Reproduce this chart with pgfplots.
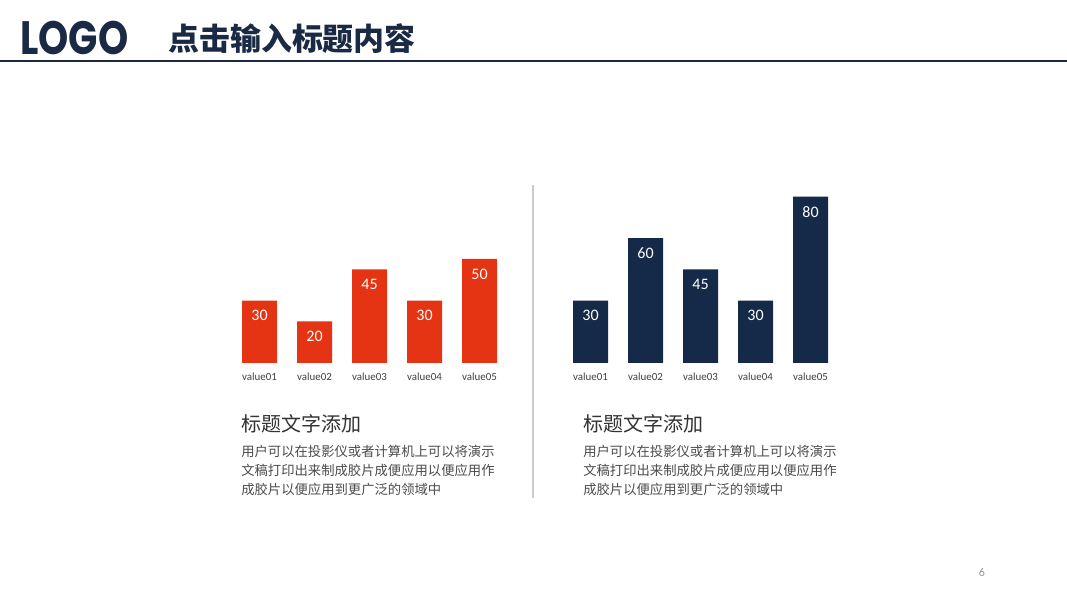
\documentclass[border=0pt]{standalone}
\usepackage{pgfplots}
\pgfplotsset{compat=1.18}
\usepackage{fontspec}
\setmainfont{Carlito}
\newfontfamily\cjk{Noto Sans CJK SC}
\newfontfamily\logofont{Poppins}
\definecolor{barred}{HTML}{E43413}
\definecolor{navy}{HTML}{152A48}
\definecolor{headnavy}{HTML}{1A2A45}
\pgfplotstableread{
x y
0 30
1 20
2 45
3 30
4 50
}\lefttab
\pgfplotstableread{
x y
0 30
1 60
2 45
3 30
4 80
}\righttab
\pgfplotsset{
  barchart/.style={
    scale only axis,
    x=41.25pt, y=1.56pt,
    xmin=-0.5, xmax=4.5, ymin=0, ymax=90,
    anchor=south west,
    axis line style={draw=none},
    ytick=\empty,
    xtick={0,1,2,3,4},
    xticklabels={value01,value02,value03,value04,value05},
    major tick length=0pt,
    xticklabel style={font=\fontsize{8.2}{9}\selectfont, text=black!75, yshift=-4pt},
    ybar, bar width=26.25pt,
    nodes near coords,
    /pgf/number format/assume math mode=true,
    every node near coord/.style={anchor=north, yshift=-3.8pt, text=white, font=\fontsize{12}{13}\selectfont},
    clip=false,
  }
}
\begin{document}
\begin{tikzpicture}
\path[use as bounding box, fill=white] (0,0) rectangle (800.25pt,450pt);
% header
\fill[headnavy] (0,{(600-62)*0.75pt}) rectangle (800.25pt,{(600-60)*0.75pt});
\node[anchor=south west, inner sep=0pt, text=headnavy] at (15pt,{(600-55)*0.75pt})
  {\resizebox{81pt}{25pt}{\logofont\bfseries LOGO}};
\node[anchor=west, inner sep=0pt, text=headnavy, font=\fontsize{23.2}{24}\selectfont\cjk\bfseries] at (126pt,{(600-39)*0.75pt})
  {点击输入标题内容};
% separator
\draw[gray!40, line width=0.9pt] ({533*0.75pt},{(600-185)*0.75pt}) -- ({533*0.75pt},{(600-498)*0.75pt});
% charts
\begin{axis}[barchart, at={(174pt,177.75pt)}]
\addplot[fill=barred, draw=none] table[x=x,y=y] {\lefttab};
\end{axis}
\begin{axis}[barchart, at={(422.25pt,177.75pt)}]
\addplot[fill=navy, draw=none] table[x=x,y=y] {\righttab};
\end{axis}
% texts
\node[anchor=west, inner sep=0pt, text=black!80, font=\fontsize{15}{18}\selectfont\cjk] at ({241*0.75pt},{(600-424)*0.75pt})
  {标题文字添加};
\node[anchor=north west, inner sep=0pt, text=black!70, align=left, font=\fontsize{10}{14.25}\selectfont\cjk] at ({241*0.75pt},{(600-445)*0.75pt})
  {用户可以在投影仪或者计算机上可以将演示\\文稿打印出来制成胶片成便应用以便应用作\\成胶片以便应用到更广泛的领域中};
\node[anchor=west, inner sep=0pt, text=black!80, font=\fontsize{15}{18}\selectfont\cjk] at ({583*0.75pt},{(600-424)*0.75pt})
  {标题文字添加};
\node[anchor=north west, inner sep=0pt, text=black!70, align=left, font=\fontsize{10}{14.25}\selectfont\cjk] at ({583*0.75pt},{(600-445)*0.75pt})
  {用户可以在投影仪或者计算机上可以将演示\\文稿打印出来制成胶片成便应用以便应用作\\成胶片以便应用到更广泛的领域中};
\node[text=black!40, inner sep=0pt, font=\fontsize{9}{10}\selectfont] at ({982*0.75pt},{(600-572)*0.75pt}) {6};
\end{tikzpicture}
\end{document}
